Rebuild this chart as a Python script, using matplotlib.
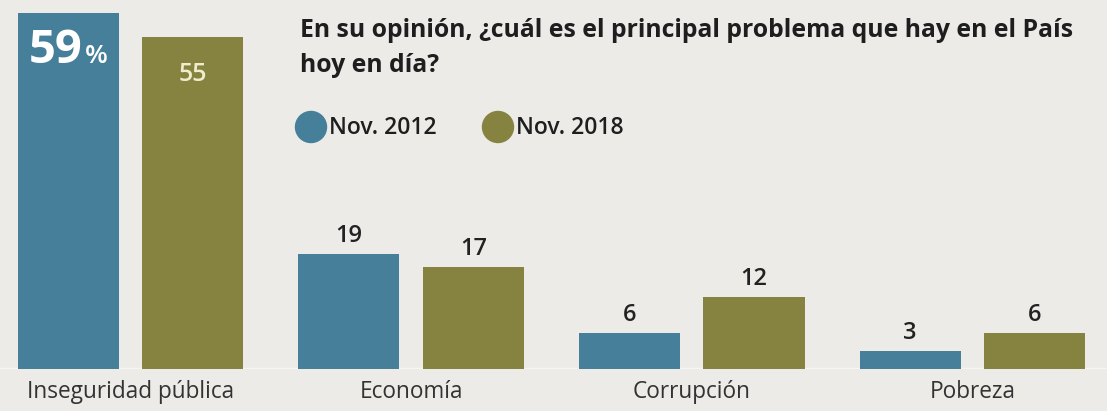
import matplotlib
matplotlib.use("Agg")
import matplotlib.pyplot as plt
import numpy as np

categories = ["Inseguridad pública", "Economía", "Corrupción", "Pobreza"]
nov_2012 = [59, 19, 6, 3]
nov_2018 = [55, 17, 12, 6]
series_labels = ["Nov. 2012", "Nov. 2018"]
title_lines = ["En su opinión, ¿cuál es el principal problema que hay en el País",
               "hoy en día?"]

BG = "#ecebe7"
BLUE = "#457f99"
OLIVE = "#868341"
FONT = ["Open Sans", "DejaVu Sans"]

W, H = 1107, 411
fig = plt.figure(figsize=(W / 100, H / 100), dpi=100, facecolor=BG)

ax = fig.add_axes([0, 42 / H, 1, 1 - 42 / H])
ax.set_facecolor("none")
x = np.arange(len(categories))
bw = 0.36
off = 0.222
ax.bar(x - off, nov_2012, bw, color=BLUE, zorder=3)
ax.bar(x + off, nov_2018, bw, color=OLIVE, zorder=3)
ax.set_xlim(-0.465, 3.48)
ax.set_ylim(0, 61.2)
ax.axis("off")
ax.axhline(0, color="#f6f5f2", lw=2.5, zorder=2)

for i in range(1, len(categories)):
    for xv, v in ((x[i] - off, nov_2012[i]), (x[i] + off, nov_2018[i])):
        ax.annotate(f"{v}", (xv, v), xytext=(0, 12), textcoords="offset pixels",
                    ha="center", va="baseline", fontsize=17, family=FONT,
                    fontweight="semibold", color="#222222")

# first group labels inside bars
ax.annotate(f"{nov_2012[0]}", (x[0] - off - bw / 2, nov_2012[0]), xytext=(11, -50),
            textcoords="offset pixels", ha="left", va="baseline", fontsize=34,
            family=FONT, fontweight="bold", color="white", zorder=5)
ax.annotate("%", (x[0] - off - bw / 2, nov_2012[0]), xytext=(67, -50),
            textcoords="offset pixels", ha="left", va="baseline", fontsize=19,
            family=FONT, fontweight="semibold", color="white", zorder=5)
ax.annotate(f"{nov_2018[0]}", (x[0] + off, nov_2018[0]), xytext=(0, -44),
            textcoords="offset pixels", ha="center", va="baseline", fontsize=18,
            family=FONT, fontweight="semibold", color="#f1edcc", zorder=5)

# category labels
for i, c in enumerate(categories):
    ax.annotate(c, (x[i], 0), xytext=(0, -29), textcoords="offset pixels",
                ha="center", va="baseline", fontsize=16.3, family=FONT,
                color="#333333", annotation_clip=False)

# title
for k, line in enumerate(title_lines):
    fig.text(300 / W, 1 - (37 + 35 * k) / H, line, ha="left", va="baseline",
             fontsize=17.8, family=FONT, fontweight="bold", color="#1e1e1e")

# legend
for j, (lab, col) in enumerate(zip(series_labels, [BLUE, OLIVE])):
    cx = (311 + j * 187) / W
    cy = 1 - 127 / H
    fig.patches.append(matplotlib.patches.Ellipse((cx, cy), 31 / W, 31 / H,
                       transform=fig.transFigure, color=col, zorder=4))
    fig.text(cx + 18 / W, 1 - 134 / H, lab, ha="left", va="baseline", fontsize=16.5,
             family=FONT, fontweight="semibold", color="#1e1e1e")

fig.savefig("out.png", dpi=100, facecolor=BG)
